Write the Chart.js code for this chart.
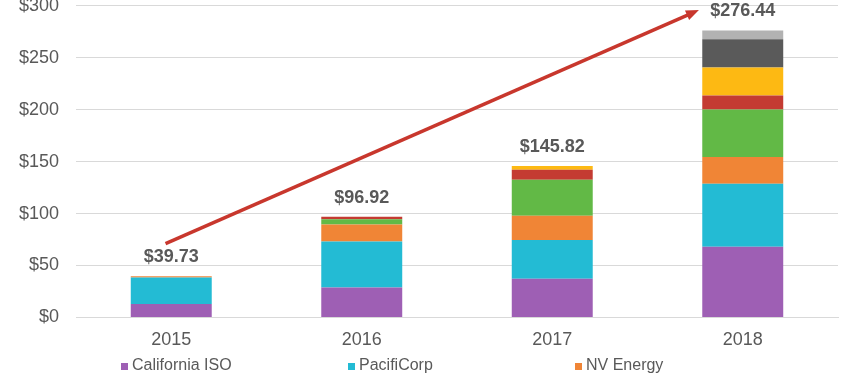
<!DOCTYPE html>
<html>
<head>
<meta charset="utf-8">
<script src="https://cdn.jsdelivr.net/npm/chart.js@4"></script>
<style>
  html, body { margin: 0; padding: 0; background: #fff; overflow: hidden; }
  canvas { display: block; }
</style>
</head>
<body>
<canvas id="chart" width="858" height="376"></canvas>
<script>
// data ($ millions, stacked per year)
const categories = ['2015', '2016', '2017', '2018'];
const caiso      = [12.8, 28.8, 37.2, 68.1];
const pacificorp = [25.7, 44.4, 37.4, 60.6];
const nvEnergy   = [1.23, 16.2, 23.2, 25.7];
const aps        = [0, 5.1, 34.8, 45.8];
const pse        = [0, 2.42, 9.6, 13.5];
const pge        = [0, 0, 3.62, 27.1];
const idahoPower = [0, 0, 0, 27.0];
const powerex    = [0, 0, 0, 8.64];
const yTicks     = [0, 50, 100, 150, 200, 250, 300];
// trend arrow, in data units (x = category index, y = $)
const arrowFrom = { x: -0.03, y: 71 };
const arrowTo   = { x: 2.77, y: 296 };

const FONT = '"Liberation Sans", Arial, sans-serif';
const GREY_TEXT = '#595959';

const series = [
  { label: 'California ISO', data: caiso, color: '#9E5FB4' },
  { label: 'PacifiCorp', data: pacificorp, color: '#23BBD4' },
  { label: 'NV Energy', data: nvEnergy, color: '#F08536' },
  { label: 'Arizona Public Service', data: aps, color: '#62B946' },
  { label: 'Puget Sound Energy', data: pse, color: '#C43B32' },
  { label: 'Portland General Electric', data: pge, color: '#FDB913' },
  { label: 'Idaho Power', data: idahoPower, color: '#5A5A5A' },
  { label: 'Powerex', data: powerex, color: '#B2B2B2' }
];

// totals above each stack
const totalLabels = {
  id: 'totalLabels',
  afterDatasetsDraw(chart) {
    const { ctx, scales: { x, y } } = chart;
    ctx.save();
    ctx.font = 'bold 18px ' + FONT;
    ctx.fillStyle = GREY_TEXT;
    ctx.textAlign = 'center';
    ctx.textBaseline = 'middle';
    categories.forEach((c, i) => {
      const total = series.reduce((s, d) => s + d.data[i], 0);
      ctx.fillText('$' + total.toFixed(2), x.getPixelForValue(i), y.getPixelForValue(total) - 19);
    });
    ctx.restore();
  }
};

// red growth arrow
const trendArrow = {
  id: 'trendArrow',
  afterDatasetsDraw(chart) {
    const { ctx, scales: { x, y } } = chart;
    const x1 = x.getPixelForValue(arrowFrom.x), y1 = y.getPixelForValue(arrowFrom.y);
    const x2 = x.getPixelForValue(arrowTo.x), y2 = y.getPixelForValue(arrowTo.y);
    const ang = Math.atan2(y2 - y1, x2 - x1);
    const head = 14;
    ctx.save();
    ctx.strokeStyle = '#C8372D';
    ctx.fillStyle = '#C8372D';
    ctx.lineWidth = 3.5;
    ctx.beginPath();
    ctx.moveTo(x1, y1);
    ctx.lineTo(x2 - Math.cos(ang) * head * 0.8, y2 - Math.sin(ang) * head * 0.8);
    ctx.stroke();
    ctx.beginPath();
    ctx.moveTo(x2, y2);
    ctx.lineTo(x2 - head * Math.cos(ang - 0.38), y2 - head * Math.sin(ang - 0.38));
    ctx.lineTo(x2 - head * Math.cos(ang + 0.38), y2 - head * Math.sin(ang + 0.38));
    ctx.closePath();
    ctx.fill();
    ctx.restore();
  }
};

// legend laid out in fixed columns, only the first row is in frame
const columnLegend = {
  id: 'columnLegend',
  afterDraw(chart) {
    const { ctx } = chart;
    const items = chart.legend.legendItems.slice(0, 3);
    ctx.save();
    ctx.font = '16px ' + FONT;
    ctx.textBaseline = 'middle';
    ctx.textAlign = 'left';
    items.forEach((it, i) => {
      const left = 121 + i * 227;
      const cy = 366;
      ctx.fillStyle = it.fillStyle;
      ctx.fillRect(left, cy - 3, 7, 7);
      ctx.fillStyle = GREY_TEXT;
      ctx.fillText(it.text, left + 11, cy);
    });
    ctx.restore();
  }
};

new Chart(document.getElementById('chart'), {
  type: 'bar',
  data: {
    labels: categories,
    datasets: series.map(s => ({
      label: s.label,
      data: s.data,
      backgroundColor: s.color,
      borderWidth: 0,
      barPercentage: 0.425,
      categoryPercentage: 1
    }))
  },
  options: {
    responsive: false,
    animation: false,
    layout: { padding: { left: 0, right: 20, top: 0, bottom: 13 } },
    plugins: {
      legend: { display: false },
      tooltip: { enabled: false }
    },
    scales: {
      x: {
        stacked: true,
        grid: { display: false, drawTicks: false },
        border: { color: '#D9D9D9' },
        ticks: { color: GREY_TEXT, font: { family: FONT, size: 18 }, padding: 12 }
      },
      y: {
        stacked: true,
        min: 0,
        max: 300,
        afterBuildTicks: axis => { axis.ticks = yTicks.map(v => ({ value: v })); },
        afterFit: axis => { axis.width = 76; },
        grid: { color: '#D9D9D9', drawTicks: true, tickLength: 17, tickColor: 'rgba(0,0,0,0)' },
        border: { display: false },
        ticks: {
          color: GREY_TEXT,
          font: { family: FONT, size: 18, lineHeight: 0.66 },
          padding: 0,
          callback: v => '$' + v
        }
      }
    }
  },
  plugins: [totalLabels, trendArrow, columnLegend]
});
</script>
</body>
</html>
